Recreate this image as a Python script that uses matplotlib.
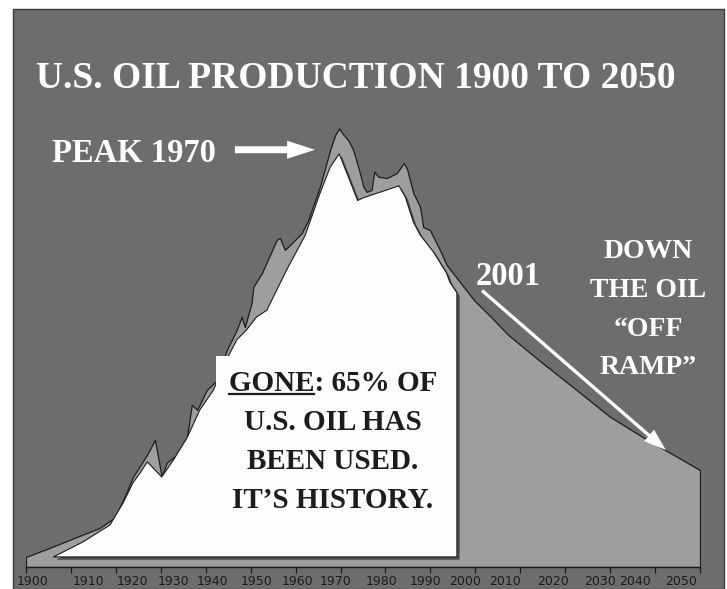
import matplotlib
matplotlib.use('Agg')
import matplotlib.pyplot as plt
import matplotlib.patheffects as pe
from matplotlib.lines import Line2D
from matplotlib.patches import Rectangle

prod_years = [1900, 1905.3, 1909.1, 1916.5, 1919.8, 1922.0, 1923.8, 1926.9, 1928.7, 1930.2,
              1931.3, 1933.5, 1935.8, 1936.9, 1938.1, 1940.2, 1942.3, 1944.7, 1946.9, 1948.0,
              1948.7, 1950.2, 1950.6, 1952.5, 1955.8, 1956.5, 1957.6, 1958.8, 1961.4, 1962.8,
              1965.4, 1967.7, 1968.8, 1969.7, 1970.3, 1971.7, 1972.8, 1974.0, 1975.1, 1975.8,
              1976.9, 1977.5, 1978.4, 1980.3, 1982.5, 1984.1, 1984.8, 1986.2, 1987.7, 1988.4,
              1989.9, 1992.1, 1993.6, 1995.9, 1999.7, 2003.5, 2007.3, 2014.6, 2022.2, 2029.8,
              2037.3, 2044.9, 2050]
prod_mbd = [0.22, 0.42, 0.57, 0.86, 1.09, 1.55, 1.97, 2.45, 2.78, 1.97,
            2.28, 2.45, 2.84, 3.55, 3.44, 3.87, 4.07, 4.75, 5.19, 5.47,
            5.25, 5.78, 6.13, 6.43, 7.16, 7.20, 6.94, 7.05, 7.31, 7.59,
            8.32, 9.13, 9.45, 9.60, 9.50, 9.34, 9.13, 8.73, 8.32, 8.21,
            8.25, 8.65, 8.54, 8.51, 8.62, 8.84, 8.71, 8.18, 7.88, 7.44,
            7.37, 6.94, 6.61, 6.32, 5.84, 5.47, 5.08, 4.49, 3.90, 3.30,
            2.84, 2.41, 2.12]

# top edge of the white "already used" shape
used_years = [1906.1, 1912.7, 1918.7, 1921.6, 1923.8, 1925.4, 1927.0, 1930.2, 1932.8, 1935.8,
              1938.7, 1941.7, 1944.7, 1946.9, 1949.1, 1951.3, 1953.6, 1958.0, 1962.1, 1965.4,
              1967.7, 1969.7, 1971.4, 1973.8, 1975.1, 1983.0, 1984.4, 1986.2, 1987.7, 1990.7,
              1993.6, 1994.3, 1995.9]
used_mbd = [0.22, 0.55, 0.92, 1.40, 1.84, 2.06, 2.30, 1.97, 2.34, 2.82,
            3.44, 3.87, 4.55, 4.97, 5.19, 5.47, 5.62, 6.50, 7.25, 8.17,
            8.75, 9.04, 8.62, 8.02, 8.08, 8.34, 8.10, 7.55, 7.27, 6.89,
            6.43, 6.24, 6.00]
used_floor = 0.22

tick_years = list(range(1900, 2051, 10))
tick_label_pos = [1901.4, 1913.8, 1923.7, 1932.9, 1941.6, 1951.4, 1960.5, 1969.0,
                  1979.2, 1988.8, 1997.7, 2006.6, 2017.3, 2027.8, 2035.6, 2045.8]

title = 'U.S. OIL PRODUCTION 1900 TO 2050'
gone_lines = ['GONE: 65% OF', 'U.S. OIL HAS', 'BEEN USED.', 'IT\u2019S HISTORY.']
ramp_lines = ['DOWN', 'THE OIL', '\u201cOFF', 'RAMP\u201d']

SERIF = ['Liberation Serif', 'DejaVu Serif']
BG = '#6d6d6d'
FILL = '#9e9e9e'
INK = '#1c1c1c'

fig = plt.figure(figsize=(7.27, 5.89), dpi=100, facecolor='white')
fig.add_artist(Rectangle((13 / 727, 0), 711 / 727, 580 / 589, transform=fig.transFigure,
                         facecolor=BG, edgecolor='#3a3a3a', lw=1, zorder=-1))

ax = fig.add_axes([26 / 727, 22 / 589, 674 / 727, 558 / 589])
ax.set_facecolor('none')
ax.set_xlim(1900, 2050)
ax.set_ylim(0, 12.21)

ax.fill_between(prod_years, 0, prod_mbd, facecolor=FILL, edgecolor=INK, lw=0.9, zorder=2)
ax.fill_between(used_years, used_floor, used_mbd, facecolor='#fdfdfd', edgecolor=INK, lw=0.8, zorder=3,
                path_effects=[pe.SimplePatchShadow(offset=(2, -2), shadow_rgbFace='#2a2a2a', alpha=0.7),
                              pe.Normal()])

fig.text(356 / 727, 1 - 88 / 589, title, ha='center', va='baseline', color='white',
         fontsize=27, fontweight='bold', family=SERIF)

ax.text(1905.8, 8.86, 'PEAK 1970', ha='left', va='baseline', color='white',
        fontsize=23.5, fontweight='bold', family=SERIF, zorder=6)
ax.annotate('', xy=(1964.3, 9.13), xytext=(1946.5, 9.13),
            arrowprops=dict(arrowstyle='simple,head_length=1.0,head_width=0.65,tail_width=0.25',
                            mutation_scale=20, fc='white', ec='white', lw=0, shrinkA=0, shrinkB=0),
            zorder=6)

ax.text(2007.3, 6.17, '2001', ha='center', va='baseline', color='white',
        fontsize=23.5, fontweight='bold', family=SERIF, zorder=6)
ax.annotate('', xy=(2042.4, 2.56), xytext=(2001.5, 6.05),
            arrowprops=dict(arrowstyle='simple,head_length=0.8,head_width=0.55,tail_width=0.12',
                            mutation_scale=20, fc='white', ec='white', lw=0, shrinkA=0, shrinkB=0),
            zorder=6)

ax.text(2038.4, 5.63, '\n'.join(ramp_lines), ha='center', va='center', multialignment='center',
        linespacing=1.72, color='white', fontsize=20, fontweight='bold', family=SERIF, zorder=6)

gone = ax.text(1968.3, 2.74, '\n'.join(gone_lines), ha='center', va='center', multialignment='center',
               linespacing=1.58, color=INK, fontsize=21, fontweight='bold', family=SERIF, zorder=5,
               bbox=dict(boxstyle='square,pad=0.45', fc='#fdfdfd', ec='none'))

# axis
for side in ['left', 'right', 'top']:
    ax.spines[side].set_visible(False)
ax.spines['bottom'].set_color(INK)
ax.spines['bottom'].set_linewidth(1)
ax.set_yticks([])
ax.set_xticks(tick_years)
ax.set_xticklabels([])
ax.set_xticks(tick_label_pos, labels=[str(y) for y in tick_years], minor=True)
ax.tick_params(axis='x', which='major', length=4, width=0.9, color=INK, direction='out')
ax.tick_params(axis='x', which='minor', length=0, pad=6, labelsize=9, labelcolor=INK)
for lbl in ax.get_xticklabels(minor=True):
    lbl.set_family(['Liberation Sans Narrow', 'DejaVu Sans'])

# underline "GONE"
fig.canvas.draw()
r = fig.canvas.get_renderer()
bb = gone.get_window_extent(r)
fp = gone.get_fontproperties()
w_line = r.get_text_width_height_descent(gone_lines[0], fp, ismath=False)[0]
w_gone = r.get_text_width_height_descent('GONE', fp, ismath=False)[0]
_, lp_h, lp_d = r.get_text_width_height_descent('lp', fp, ismath=False)
x0 = (bb.x0 + bb.x1) / 2 - w_line / 2
y_ul = bb.y1 - (lp_h - lp_d) - 3
W, H = fig.get_size_inches() * fig.dpi
fig.add_artist(Line2D([x0 / W, (x0 + w_gone) / W], [y_ul / H, y_ul / H], transform=fig.transFigure,
                      color=INK, lw=1.6, zorder=10))

fig.savefig('out.png', dpi=100, facecolor=fig.get_facecolor())
